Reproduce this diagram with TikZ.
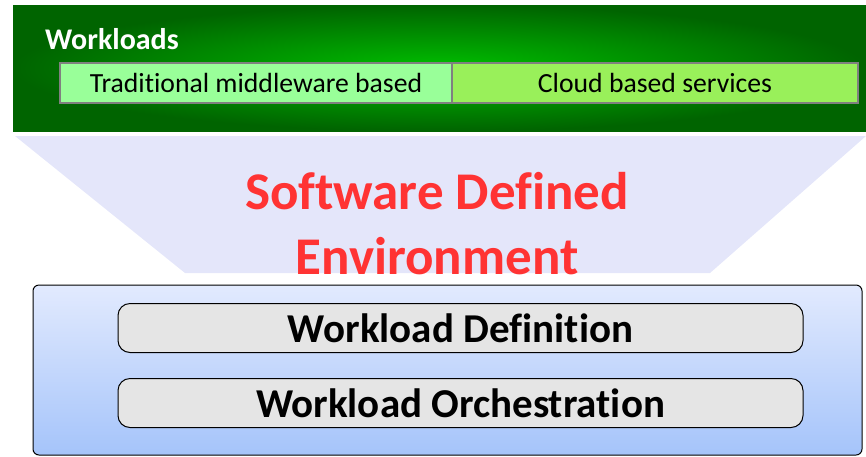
\documentclass[tikz,border=0pt]{standalone}
\usepackage{fontspec}
\setmainfont{Carlito}[Ligatures=NoCommon]
\begin{document}
\begin{tikzpicture}[x=1pt,y=-1pt,
  tier/.style={draw=black, line width=1pt, rounded corners=12pt, fill=gray!20, font=\bfseries\fontsize{41}{44}\selectfont},
  wlbox/.style={draw=gray, line width=2.5pt, minimum height=40pt, font=\fontsize{27.7}{30}\selectfont, inner sep=0pt},
]
\useasboundingbox (0,0) rectangle (866,456);
\definecolor{dkgreen}{RGB}{0,100,0}
\definecolor{brgreen}{RGB}{0,190,0}
\definecolor{lav}{RGB}{228,230,250}
\definecolor{sdered}{RGB}{255,51,51}
\definecolor{lgreen}{RGB}{153,255,153}
\definecolor{lime}{RGB}{153,240,90}
\definecolor{bluetop}{RGB}{226,234,254}
\definecolor{bluebot}{RGB}{165,196,250}
% top green band
\shade[inner color=brgreen, outer color=dkgreen] (13,5) rectangle (866,131);
\node[anchor=west, text=white, font=\bfseries\fontsize{30}{32}\selectfont, inner sep=0pt] (wl) at (45,39) {Workloads};
\node[wlbox, fill=lgreen, minimum width=392pt] (trad) at (256,83) {Traditional middleware based};
\node[wlbox, fill=lime, minimum width=406pt] (cloud) at (655,83) {Cloud based services};
% trapezoid
\fill[lav] (15,136) -- (866,136) -- (710,273) -- (185,273) -- cycle;
\node[text=sdered, font=\bfseries\fontsize{53}{65}\selectfont, align=center] (sde) at (437,224) {Software Defined\\Environment};
% bottom container
\shade[top color=bluetop, bottom color=bluebot, draw=black, line width=1pt, rounded corners=6pt] (33,285) rectangle (862,455);
\node[tier, minimum width=685pt, minimum height=49pt] (def) at (460.5,328) {Workload Definition};
\node[tier, minimum width=685pt, minimum height=49pt] (orch) at (460.5,403) {Workload Orchestration};
\end{tikzpicture}
\end{document}
